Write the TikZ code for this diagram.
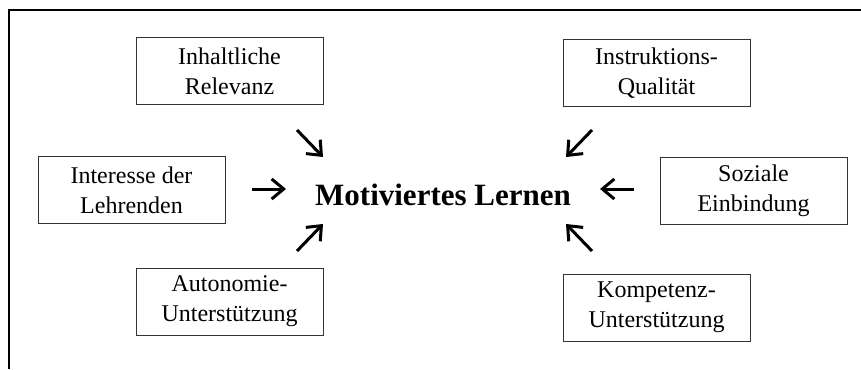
\documentclass[tikz,border=0pt]{standalone}
\usepackage{fontspec}
\setmainfont{Liberation Serif}
\usepackage{tikz}
\usetikzlibrary{arrows.meta,positioning}

\begin{document}
\begin{tikzpicture}[
  x=0.5pt, y=-0.5pt,
  font=\fontsize{12}{15}\selectfont,
  >={Straight Barb[length=6pt,width=10pt]},
  box/.style    = {draw=black!80, line width=0.5pt, align=center,
                   minimum width=93.5pt, minimum height=33.5pt, inner sep=0pt},
  haupt/.style  = {font=\fontsize{15.5}{18}\selectfont\bfseries, anchor=base},
  pfeil/.style  = {line width=1.5pt, ->},
  rahmen/.style = {line width=1.1pt},
]

\useasboundingbox (0,0) rectangle (861,369);

% Rahmen (nur oben und links)
\draw[rahmen] (9,369) -- (9,10) -- (861,10);

% Einflussfaktoren
\node[box] (inhalt)    at (229.5, 71.5) {Inhaltliche\\Relevanz};
\node[box] (instrukt)  at (656.5, 73.0) {Instruktions-\\Qualität};
\node[box] (interesse) at (131.5,190.0) {Interesse der\\Lehrenden};
\node[box] (sozial)    at (753.5,190.5) {Soziale\\Einbindung};
\node[box] (autonomie) at (229.5,301.5) {Autonomie-\\Unterstützung};
\node[box] (kompetenz) at (656.5,307.5) {Kompetenz-\\Unterstützung};

% Zentrum
\node[haupt] (motiv) at (443,205) {Motiviertes Lernen};

% Pfeile zum Zentrum
\foreach \xs/\ys/\xe/\ye [count=\i] in {
    297/130/323/157,   % von oben links
    252/189/286/189,   % von links
    297/251/323/224,   % von unten links
    592/130/566/157,   % von oben rechts
    634/189/600/189,   % von rechts
    592/251/566/224%   % von unten rechts
  }{
  \coordinate (s\i) at (\xs,\ys);
  \coordinate (e\i) at (\xe,\ye);
  \draw[pfeil] (s\i) -- (e\i);
}

\end{tikzpicture}
\end{document}
